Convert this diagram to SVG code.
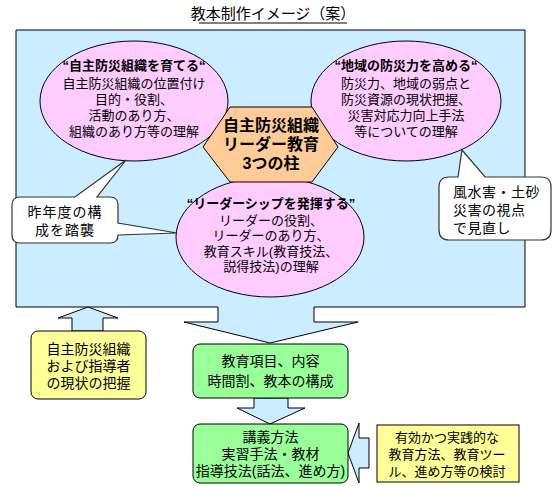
<svg xmlns="http://www.w3.org/2000/svg" width="554" height="486" viewBox="0 0 554 486">
<style>
text{font-family:"Liberation Sans","Noto Sans CJK JP",sans-serif;fill:#000;text-anchor:middle}
.t13{font-size:13px}
.t14{font-size:14px}
.b{font-weight:bold}
.ell{fill:#FFCCFF;stroke:#000;stroke-width:1}
.blue{fill:#CCECFF;stroke:#000;stroke-width:1}
.green{fill:#99FF99;stroke:#000;stroke-width:1}
.yellow{fill:#FFFF99;stroke:#000;stroke-width:1}
.call{fill:#FFFFFF;stroke:#333;stroke-width:1.2}
</style>
<rect width="554" height="486" fill="#FFFFFF"/>
<g id="title">
<text x="273" y="19" style="font-size:15px">教本制作イメージ（案）</text>
<line x1="199" y1="23" x2="347" y2="23" stroke="#000" stroke-width="1"/>
</g>
<g id="frame">
<path class="blue" d="M16,30 H525 V307 H314 V322 H358 L270,343 L184,322 H218 V307 H16 Z"/>
</g>
<g id="ellipse-left">
<ellipse class="ell" cx="134" cy="101" rx="94" ry="60"/>
<text class="t13" x="134" y="70"><tspan class="b">“自主防災組織を育てる“</tspan><tspan x="134" y="88">自主防災組織の位置付け</tspan><tspan x="134" y="104">目的・役割、</tspan><tspan x="134" y="119.5">活動のあり方、</tspan><tspan x="134" y="135.5">組織のあり方等の理解</tspan></text>
</g>
<g id="ellipse-right">
<ellipse class="ell" cx="406" cy="101" rx="95" ry="60"/>
<text class="t13" x="406" y="70"><tspan class="b">“地域の防災力を高める“</tspan><tspan x="406" y="88">防災力、地域の弱点と</tspan><tspan x="406" y="104">防災資源の現状把握、</tspan><tspan x="406" y="119.5">災害対応力向上手法</tspan><tspan x="406" y="135.5">等についての理解</tspan></text>
</g>
<g id="ellipse-bottom">
<ellipse class="ell" cx="270" cy="237" rx="94" ry="60"/>
<text class="t13" x="271" y="207.5"><tspan class="b">“リーダーシップを発揮する”</tspan><tspan x="271" y="224.5">リーダーの役割、</tspan><tspan x="271" y="240">リーダーのあり方、</tspan><tspan x="271" y="255.5">教育スキル(教育技法、</tspan><tspan x="271" y="271">説得技法)の理解</tspan></text>
</g>
<g id="hexagon">
<polygon points="230,107 312,107 338,147 312,182 230,182 203,147" fill="#FFCC99" stroke="#000" stroke-width="1"/>
<text class="b" x="271" y="131" style="font-size:16px">自主防災組織<tspan x="271" y="150">リーダー教育</tspan><tspan x="271" y="169">3つの柱</tspan></text>
</g>
<g id="callout-left">
<path class="call" d="M20,197 H75 L126,160 L97,197 H110 Q118,197 118,205 V223 L177,233 L118,235 Q118,243 110,243 H20 Q12,243 12,235 V205 Q12,197 20,197 Z"/>
<text class="t14" x="65" y="217" style="letter-spacing:1px">昨年度の構<tspan x="65" y="235">成を踏襲</tspan></text>
</g>
<g id="callout-right">
<path class="call" d="M449,177 H458 L462,150 L485,177 H541 Q551,177 551,187 V230 Q551,240 541,240 H449 Q439,240 439,230 V187 Q439,177 449,177 Z"/>
<text class="t14" x="453" y="196.5" style="text-anchor:start;letter-spacing:0.5px">風水害・土砂<tspan x="453" y="215">災害の視点</tspan><tspan x="453" y="233">で見直し</tspan></text>
</g>
<g id="connectors">
<polygon class="blue" points="88,307 118,318 103,318 103,331 72,331 72,318 58,318"/>
<polygon class="blue" points="254,398 288,398 288,408 305,408 270,424 237,408 254,408"/>
<polygon class="blue" points="348,453 359,423 359,438 369,438 369,468 359,468 359,483"/>
</g>
<g id="box-current-state">
<rect class="yellow" x="31" y="331" width="115" height="68" rx="7"/>
<text class="t14" x="88.5" y="354">自主防災組織<tspan x="88.5" y="371">および指導者</tspan><tspan x="88.5" y="387.5">の現状の把握</tspan></text>
</g>
<g id="box-items">
<rect class="green" x="193" y="344" width="155" height="54" rx="7"/>
<text class="t14" x="270.5" y="366">教育項目、内容<tspan x="270.5" y="386">時間割、教本の構成</tspan></text>
</g>
<g id="box-methods">
<rect class="green" x="193" y="424" width="155" height="59" rx="7"/>
<text class="t14" x="270.5" y="442">講義方法<tspan x="270.5" y="459">実習手法・教材</tspan><tspan x="270.5" y="476">指導技法(話法、進め方)</tspan></text>
</g>
<g id="box-review">
<rect class="yellow" x="377" y="425" width="142" height="57"/>
<text class="t13" x="447" y="442">有効かつ実践的な<tspan x="447" y="459">教育方法、教育ツー</tspan><tspan x="447" y="476">ル、進め方等の検討</tspan></text>
</g>
</svg>
